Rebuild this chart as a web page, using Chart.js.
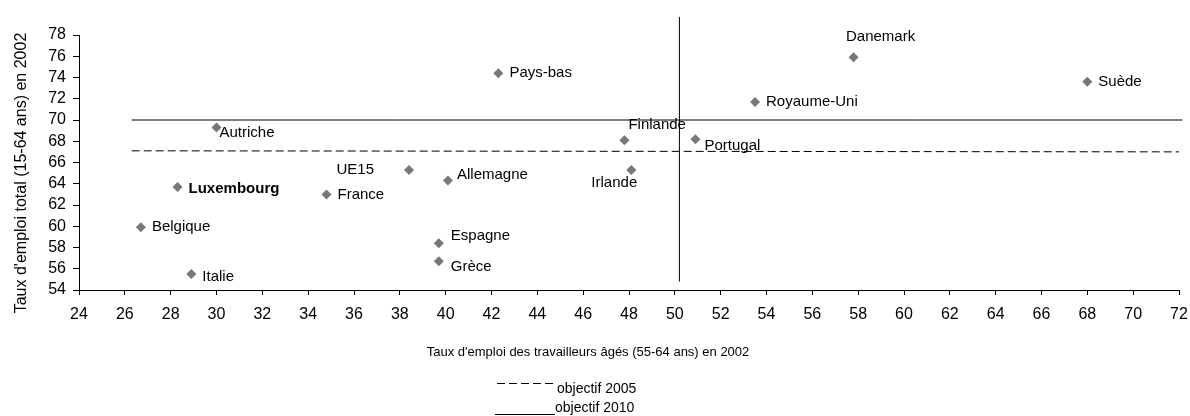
<!DOCTYPE html>
<html>
<head>
<meta charset="utf-8">
<script src="https://cdn.jsdelivr.net/npm/chart.js@4.4.0/dist/chart.umd.min.js"></script>
<style>
  html, body { margin: 0; padding: 0; background: #fff; }
  #c { display: block; }
</style>
</head>
<body>
<canvas id="c" width="1190" height="416"></canvas>
<script>
// ---- data ----
const countries = ['Autriche','Luxembourg','Belgique','Italie','France','UE15','Allemagne','Espagne','Grèce','Pays-bas','Finlande','Irlande','Portugal','Royaume-Uni','Danemark','Suède'];
const olderRate = [30.0, 28.3, 26.7, 28.9, 34.8, 38.4, 40.1, 39.7, 39.7, 42.3, 47.8, 48.1, 50.9, 53.5, 57.8, 68.0];
const totalRate = [69.3, 63.7, 59.9, 55.5, 63.0, 65.3, 64.3, 58.4, 56.7, 74.4, 68.1, 65.3, 68.2, 71.7, 75.9, 73.6];

const target2005X = [26.3, 72.0];
const target2005Y = [67.1, 67.0];
const target2010X = [26.3, 72.15];
const target2010Y = [70.0, 70.0];
const olderTargetX = [50.2, 50.2];
const olderTargetY = [54.8, 79.7];

const xTitle = "Taux d'emploi des travailleurs âgés (55-64 ans) en 2002";
const yTitle = "Taux d'emploi total (15-64 ans) en 2002";
const xMin = 24, xMax = 72, yMin = 54, yMax = 78, tickStep = 2;

// ---- label placement (styling, not data) ----
const labelPlacement = {
  'Autriche':    { dx: 3,   dy: 5,   align: 'left' },
  'Luxembourg':  { dx: 11,  dy: 2,   align: 'left', bold: true },
  'Belgique':    { dx: 11,  dy: 0,   align: 'left' },
  'Italie':      { dx: 11,  dy: 3,   align: 'left' },
  'France':      { dx: 11,  dy: 0,   align: 'left' },
  'UE15':        { dx: -35, dy: 0,   align: 'right' },
  'Allemagne':   { dx: 9,   dy: -6,  align: 'left' },
  'Espagne':     { dx: 12,  dy: -7,  align: 'left' },
  'Grèce':       { dx: 12,  dy: 6,   align: 'left' },
  'Pays-bas':    { dx: 11,  dy: 0,   align: 'left' },
  'Finlande':    { dx: 4,   dy: -15, align: 'left' },
  'Irlande':     { dx: -17, dy: 13,  align: 'center' },
  'Portugal':    { dx: 9,   dy: 7,   align: 'left' },
  'Royaume-Uni': { dx: 11,  dy: 0,   align: 'left' },
  'Danemark':    { dx: 27,  dy: -20, align: 'center' },
  'Suède':       { dx: 11,  dy: 0,   align: 'left' }
};

const FONT = "'Liberation Sans', Arial, sans-serif";
const zip = (xs, ys) => xs.map((x, i) => ({ x: x, y: ys[i] }));

const labelsPlugin = {
  id: 'pointLabels',
  afterDatasetsDraw(chart) {
    const ctx = chart.ctx;
    const xs = chart.scales.x, ys = chart.scales.y;
    ctx.save();
    ctx.fillStyle = '#000';
    ctx.textBaseline = 'middle';
    countries.forEach((name, i) => {
      const p = labelPlacement[name] || { dx: 10, dy: 0, align: 'left' };
      const px = xs.getPixelForValue(olderRate[i]);
      const py = ys.getPixelForValue(totalRate[i]);
      ctx.font = (p.bold ? 'bold ' : '') + '15px ' + FONT;
      ctx.textAlign = p.align;
      ctx.fillText(name, px + p.dx, py + p.dy);
    });
    // axis titles
    ctx.font = '13px ' + FONT;
    ctx.textAlign = 'center';
    ctx.fillText(xTitle, 588, 352);
    ctx.save();
    ctx.translate(22, 173);
    ctx.rotate(-Math.PI / 2);
    ctx.font = '16px ' + FONT;
    ctx.fillText(yTitle, 0, 0);
    ctx.restore();
    // legend
    const legendItems = chart.data.datasets.filter(d => d.inLegend);
    const legendPos = [ { x1: 497, x2: 557, ly: 383.5, ty: 389 }, { x1: 495, x2: 555, ly: 414.5, ty: 408 } ];
    legendItems.forEach((d, i) => {
      const L = legendPos[i];
      ctx.beginPath();
      ctx.setLineDash(d.borderDash || []);
      ctx.strokeStyle = d.borderColor;
      ctx.lineWidth = d.borderWidth;
      ctx.moveTo(L.x1, L.ly);
      ctx.lineTo(L.x2, L.ly);
      ctx.stroke();
      ctx.setLineDash([]);
      ctx.font = '14px ' + FONT;
      ctx.textAlign = 'left';
      ctx.fillText(d.label, L.x2, L.ty);
    });
    ctx.restore();
  }
};

new Chart(document.getElementById('c'), {
  type: 'scatter',
  data: {
    datasets: [
      {
        label: 'pays',
        data: zip(olderRate, totalRate),
        pointStyle: 'rectRot',
        pointRadius: 5,
        pointBackgroundColor: '#777777',
        pointBorderColor: '#777777',
        pointBorderWidth: 0,
        showLine: false
      },
      {
        label: 'objectif 2005',
        inLegend: true,
        data: zip(target2005X, target2005Y),
        showLine: true,
        borderColor: '#000',
        borderWidth: 1,
        borderDash: [8, 4],
        pointRadius: 0,
        clip: false
      },
      {
        label: 'objectif 2010',
        inLegend: true,
        data: zip(target2010X, target2010Y),
        showLine: true,
        borderColor: '#000',
        borderWidth: 1,
        pointRadius: 0,
        clip: false
      },
      {
        label: 'objectif 2010 (55-64)',
        data: zip(olderTargetX, olderTargetY),
        showLine: true,
        borderColor: '#000',
        borderWidth: 1,
        pointRadius: 0,
        clip: false
      }
    ]
  },
  options: {
    responsive: false,
    devicePixelRatio: 1,
    animation: false,
    events: [],
    layout: { padding: { top: 35, right: 11, left: 0, bottom: 0 } },
    plugins: { legend: { display: false }, tooltip: { enabled: false } },
    scales: {
      x: {
        type: 'linear',
        min: xMin, max: xMax,
        afterFit(s) { s.height = 126; s.paddingLeft = 0; s.paddingRight = 0; },
        ticks: { stepSize: tickStep, color: '#000', font: { family: FONT, size: 16 }, padding: 10, maxRotation: 0, autoSkip: false },
        grid: { display: true, drawOnChartArea: false, drawTicks: true, tickLength: 5, color: '#000', lineWidth: 1 },
        border: { display: true, color: '#000', width: 1 }
      },
      y: {
        type: 'linear',
        min: yMin, max: yMax,
        afterFit(s) { s.width = 79; },
        ticks: { stepSize: tickStep, color: '#000', font: { family: FONT, size: 16 }, padding: 7, autoSkip: false },
        grid: { display: true, drawOnChartArea: false, drawTicks: true, tickLength: 6, color: '#000', lineWidth: 1 },
        border: { display: true, color: '#000', width: 1 }
      }
    }
  },
  plugins: [labelsPlugin]
});
</script>
</body>
</html>
